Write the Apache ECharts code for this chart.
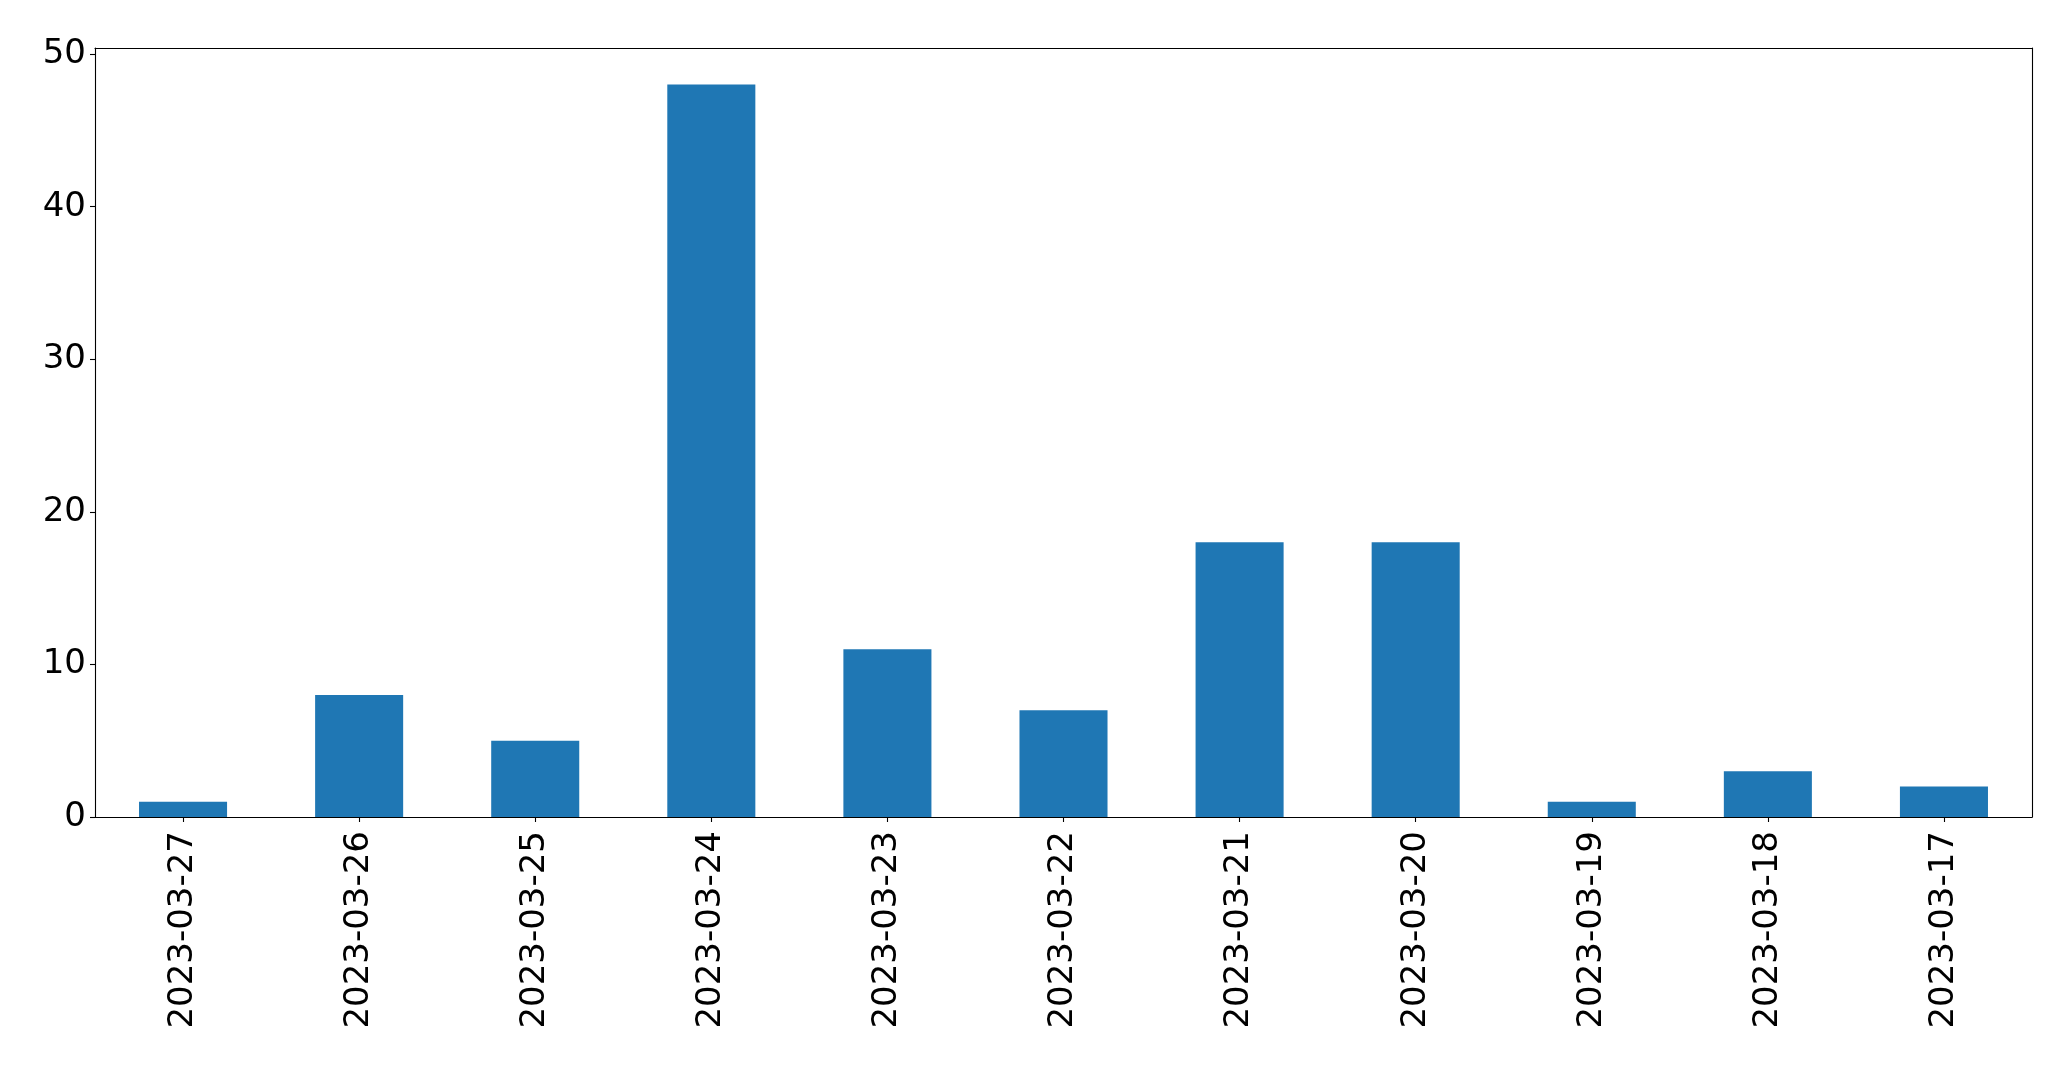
<!DOCTYPE html>
<html>
<head>
<meta charset="utf-8">
<script src="https://cdn.jsdelivr.net/npm/echarts@6/dist/echarts.min.js"></script>
<style>
html,body{margin:0;padding:0;background:#fff;}
#chart{width:2071px;height:1069px;}
</style>
</head>
<body>
<div id="chart"></div>
<script>
const categories = ['2023-03-27','2023-03-26','2023-03-25','2023-03-24','2023-03-23','2023-03-22','2023-03-21','2023-03-20','2023-03-19','2023-03-18','2023-03-17'];
const values = [1, 8, 5, 48, 11, 7, 18, 18, 1, 3, 2];
const yTicks = [0, 10, 20, 30, 40, 50];

const font = 'DejaVu Sans';
const fs = 34;
const chart = echarts.init(document.getElementById('chart'), null, {renderer: 'canvas'});
chart.setOption({
  animation: false,
  backgroundColor: '#ffffff',
  grid: {left: 95, top: 48, right: 39, bottom: 252, containLabel: false},
  xAxis: [{
    type: 'category',
    data: categories,
    boundaryGap: true,
    axisLine: {show: true, onZero: false, lineStyle: {color: '#000', width: 1.1}},
    axisTick: {show: true, alignWithLabel: true, length: 5, lineStyle: {color: '#000', width: 1.1}},
    axisLabel: {rotate: 90, interval: 0, margin: 14, color: '#000', fontFamily: font, fontSize: fs},
    splitLine: {show: false}
  }, {
    type: 'category',
    data: categories,
    position: 'top',
    axisLine: {show: true, onZero: false, lineStyle: {color: '#000', width: 1.1}},
    axisTick: {show: false},
    axisLabel: {show: false},
    splitLine: {show: false}
  }],
  yAxis: [{
    type: 'value',
    min: 0,
    max: 50.4,
    interval: 10,
    axisLine: {show: true, onZero: false, lineStyle: {color: '#000', width: 1.1}},
    axisTick: {show: true, length: 5, lineStyle: {color: '#000', width: 1.1}, customValues: yTicks},
    axisLabel: {margin: 9, color: '#000', fontFamily: font, fontSize: fs, customValues: yTicks},
    splitLine: {show: false}
  }, {
    type: 'value',
    position: 'right',
    min: 0,
    max: 50.4,
    axisLine: {show: true, onZero: false, lineStyle: {color: '#000', width: 1.1}},
    axisTick: {show: false},
    axisLabel: {show: false},
    splitLine: {show: false}
  }],
  series: [{
    type: 'bar',
    data: values,
    barWidth: '50%',
    itemStyle: {color: '#1f77b4'}
  }]
});
</script>
</body>
</html>
